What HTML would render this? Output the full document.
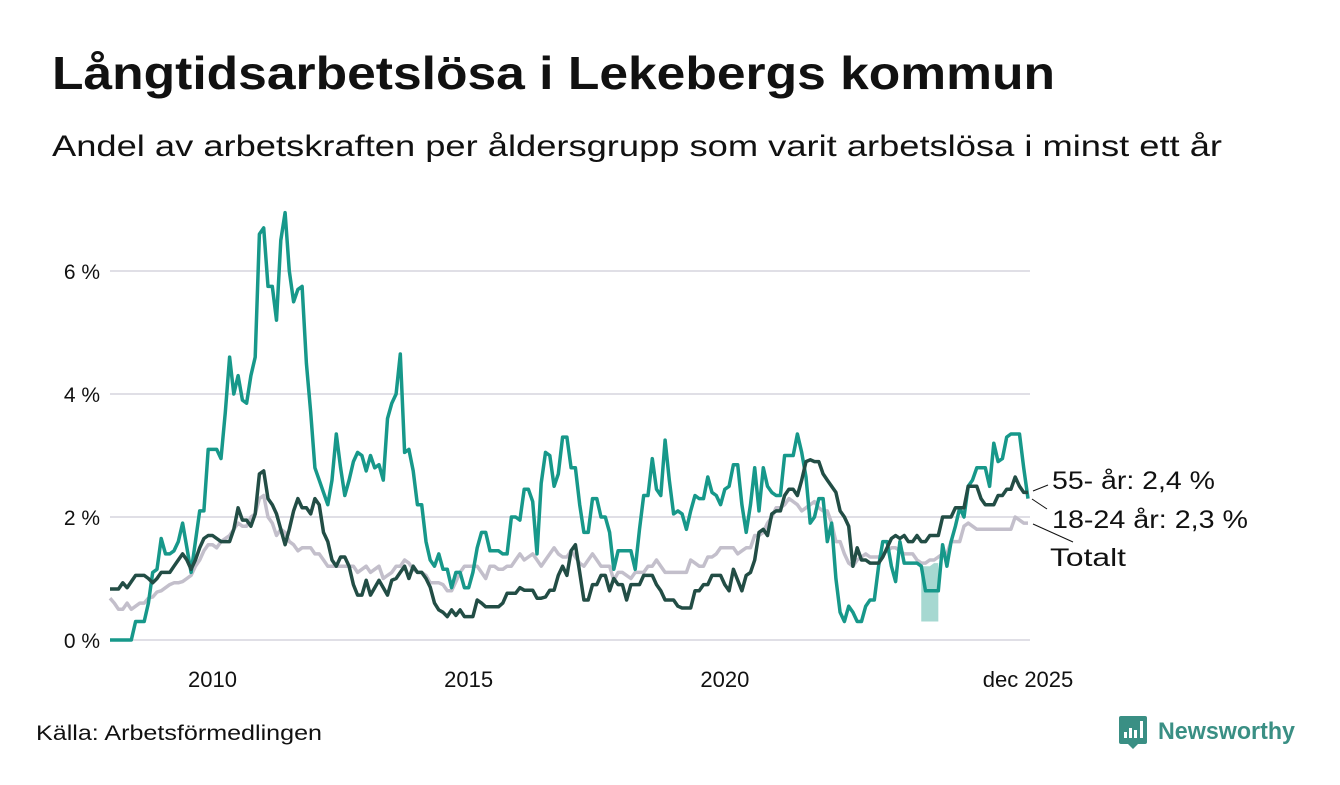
<!DOCTYPE html>
<html><head><meta charset="utf-8"><style>
body{margin:0;background:#fff;width:1340px;height:780px;overflow:hidden;font-family:"Liberation Sans",sans-serif}
</style></head><body>
<svg id="chart" width="1340" height="780" xmlns="http://www.w3.org/2000/svg">
<text x="52" y="89" font-size="46" font-weight="bold" fill="#111" textLength="1003" lengthAdjust="spacingAndGlyphs">Långtidsarbetslösa i Lekebergs kommun</text>
<text x="52" y="156" font-size="30" fill="#111" textLength="1170" lengthAdjust="spacingAndGlyphs">Andel av arbetskraften per åldersgrupp som varit arbetslösa i minst ett år</text>
<g id="grid"></g>
<g id="yticks"></g>
<g id="xticks"></g>
<g id="series"></g>
<g>
<line x1="1033" y1="491" x2="1048" y2="485" stroke="#111" stroke-width="1"/>
<line x1="1032" y1="499" x2="1047" y2="509" stroke="#111" stroke-width="1"/>
<line x1="1033" y1="524" x2="1073" y2="542" stroke="#111" stroke-width="1"/>
<text x="1052" y="489" font-size="25" fill="#111" textLength="163" lengthAdjust="spacingAndGlyphs">55- år: 2,4 %</text>
<text x="1052" y="528" font-size="25" fill="#111" textLength="196" lengthAdjust="spacingAndGlyphs">18-24 år: 2,3 %</text>
<text x="1050" y="566" font-size="25" fill="#111" textLength="76" lengthAdjust="spacingAndGlyphs">Totalt</text>
</g>
<text x="36" y="740" font-size="21" fill="#111" textLength="286" lengthAdjust="spacingAndGlyphs">Källa: Arbetsförmedlingen</text>
<g>
<path d="M1121 716 H1145 Q1147 716 1147 718 V742 Q1147 744 1145 744 H1138 L1133 749 L1128 744 H1121 Q1119 744 1119 742 V718 Q1119 716 1121 716 Z" fill="#3a8f84"/>
<rect x="1124" y="732" width="3" height="6" fill="#fff"/><rect x="1129" y="728" width="3" height="10" fill="#fff"/><rect x="1134" y="730" width="3" height="8" fill="#fff"/><rect x="1140" y="721" width="3" height="17" fill="#fff"/>
<text x="1158" y="739" font-size="24" font-weight="bold" fill="#3a8f84" textLength="137" lengthAdjust="spacingAndGlyphs">Newsworthy</text>
</g>
</svg>
<script>
const yTicks=[0,2,4,6];
const yTickLabels=["0 %","2 %","4 %","6 %"];
const xTickMonths=[24,84,144,215];
const xTickLabels=["2010","2015","2020","dec 2025"];
const startYear=2008;
const youth=[0,0,0,0,0,0,0.3,0.3,0.3,0.6,1.1,1.15,
1.65,1.4,1.4,1.45,1.6,1.9,1.5,1.1,1.6,2.1,2.1,3.1,
3.1,3.1,2.95,3.7,4.6,4.0,4.3,3.9,3.85,4.3,4.6,6.6,
6.7,5.75,5.75,5.2,6.5,6.95,6.0,5.5,5.7,5.75,4.5,3.7,
2.8,2.6,2.4,2.2,2.6,3.35,2.8,2.35,2.6,2.9,3.05,3.0,
2.75,3.0,2.8,2.85,2.6,3.6,3.85,4.0,4.65,3.05,3.1,2.75,
2.2,2.2,1.6,1.3,1.2,1.4,1.15,1.15,0.85,1.1,1.1,0.85,
0.85,1.1,1.5,1.75,1.75,1.45,1.45,1.45,1.4,1.4,2.0,2.0,
1.95,2.45,2.45,2.25,1.4,2.55,3.05,3.0,2.5,2.7,3.3,3.3,
2.8,2.8,2.2,1.75,1.75,2.3,2.3,2.0,2.0,1.75,1.15,1.45,
1.45,1.45,1.45,1.15,1.8,2.35,2.35,2.95,2.45,2.35,3.25,2.6,
2.05,2.1,2.05,1.8,2.1,2.35,2.3,2.3,2.65,2.4,2.35,2.2,
2.45,2.5,2.85,2.85,2.2,1.75,2.2,2.8,2.1,2.8,2.5,2.4,
2.35,2.35,3.0,3.0,3.0,3.35,3.05,2.65,1.9,2.0,2.3,2.3,
1.6,1.9,1.0,0.45,0.3,0.55,0.45,0.3,0.3,0.55,0.65,0.65,
1.2,1.6,1.6,1.2,0.95,1.6,1.25,1.25,1.25,1.25,1.2,0.8,
0.8,0.8,0.8,1.55,1.2,1.6,1.85,2.15,2.0,2.5,2.6,2.8,
2.8,2.8,2.5,3.2,2.9,2.95,3.3,3.35,3.35,3.35,2.8,2.3];
const senior=[0.83,0.83,0.83,0.93,0.85,0.95,1.05,1.05,1.05,1.0,0.93,1.0,
1.1,1.1,1.1,1.2,1.3,1.4,1.3,1.15,1.3,1.5,1.65,1.7,
1.7,1.65,1.6,1.6,1.6,1.8,2.15,1.95,1.95,1.85,2.05,2.7,
2.75,2.3,2.2,2.05,1.8,1.55,1.8,2.1,2.3,2.15,2.15,2.05,
2.3,2.2,1.75,1.6,1.3,1.2,1.35,1.35,1.2,0.9,0.73,0.73,
0.97,0.73,0.85,0.97,0.85,0.73,0.97,1.0,1.1,1.2,1.0,1.2,
1.1,1.1,1.0,0.86,0.6,0.49,0.45,0.38,0.49,0.4,0.49,0.38,
0.38,0.38,0.65,0.6,0.54,0.54,0.54,0.54,0.6,0.76,0.76,0.76,
0.85,0.81,0.81,0.81,0.68,0.68,0.7,0.81,0.81,1.05,1.2,1.05,
1.45,1.55,1.1,0.65,0.65,0.9,0.9,1.05,1.05,0.8,1.0,0.9,
0.9,0.65,0.9,0.9,0.9,1.05,1.05,1.05,0.9,0.8,0.65,0.65,
0.65,0.55,0.52,0.52,0.52,0.8,0.8,0.9,0.9,1.05,1.05,1.05,
0.9,0.8,1.15,0.97,0.8,1.05,1.1,1.3,1.75,1.8,1.7,2.05,
2.1,2.1,2.35,2.45,2.45,2.35,2.6,2.9,2.93,2.9,2.9,2.7,
2.6,2.5,2.4,2.1,2.0,1.85,1.2,1.5,1.3,1.3,1.25,1.25,
1.25,1.35,1.5,1.65,1.7,1.65,1.7,1.6,1.6,1.7,1.6,1.6,
1.7,1.7,1.7,2.0,2.0,2.0,2.15,2.15,2.15,2.5,2.5,2.5,
2.3,2.2,2.2,2.2,2.35,2.35,2.45,2.45,2.65,2.5,2.4,2.4];
const total=[0.68,0.6,0.5,0.5,0.6,0.5,0.55,0.6,0.6,0.68,0.7,0.78,
0.8,0.85,0.9,0.93,0.93,0.95,1.0,1.05,1.2,1.3,1.45,1.55,
1.55,1.5,1.6,1.65,1.7,1.8,1.9,1.85,1.85,2.0,2.05,2.3,
2.35,2.0,1.9,1.7,1.8,1.75,1.6,1.55,1.45,1.5,1.5,1.5,
1.4,1.4,1.3,1.2,1.2,1.2,1.2,1.2,1.2,1.2,1.1,1.15,
1.2,1.1,1.15,1.2,1.0,1.05,1.1,1.2,1.2,1.3,1.25,1.15,
1.1,1.1,1.05,0.93,0.93,0.93,0.9,0.8,0.8,0.95,1.1,1.2,
1.2,1.2,1.2,1.1,1.0,1.2,1.2,1.15,1.15,1.2,1.2,1.3,
1.4,1.3,1.35,1.4,1.3,1.2,1.3,1.4,1.5,1.4,1.35,1.35,
1.45,1.35,1.25,1.2,1.3,1.4,1.3,1.2,1.2,1.2,0.97,1.1,
1.1,1.05,1.0,1.1,1.1,1.1,1.2,1.2,1.3,1.2,1.1,1.1,
1.1,1.1,1.1,1.1,1.3,1.25,1.2,1.2,1.35,1.35,1.4,1.5,
1.5,1.5,1.5,1.4,1.45,1.5,1.5,1.7,1.7,1.75,1.9,2.0,
2.15,2.15,2.2,2.3,2.25,2.2,2.1,2.15,2.2,2.25,2.15,2.1,
2.1,1.9,1.6,1.6,1.4,1.25,1.2,1.3,1.35,1.4,1.35,1.35,
1.35,1.4,1.45,1.5,1.5,1.45,1.4,1.4,1.4,1.3,1.25,1.25,
1.3,1.3,1.35,1.4,1.4,1.6,1.6,1.6,1.85,1.9,1.85,1.8,
1.8,1.8,1.8,1.8,1.8,1.8,1.8,1.8,2.0,1.95,1.9,1.9];
const bandMonths=[190,191,192,193,194];
const bandLow=[0.3,0.3,0.3,0.3,0.3];
const bandHigh=[1.2,1.2,1.2,1.25,1.25];

const NS="http://www.w3.org/2000/svg";
const X0=110,X1=1028,Y0=640,PXPER=61.5;
const nMonths=youth.length;
function xs(i){return X0+i*(X1-X0)/(nMonths-1);}
function ys(v){return Y0-v*PXPER;}
function mk(tag,attrs,parent){const e=document.createElementNS(NS,tag);for(const k in attrs)e.setAttribute(k,attrs[k]);parent.appendChild(e);return e;}
const grid=document.getElementById('grid'),yt=document.getElementById('yticks'),xt=document.getElementById('xticks'),ser=document.getElementById('series');
yTicks.forEach((v,k)=>{
  const l=mk('line',{x1:X0,x2:1030,y1:ys(v),y2:ys(v),stroke:'#e0dfe6','stroke-width':2},grid);
  
  
  const t=mk('text',{x:100,y:ys(v)+8,'text-anchor':'end','font-size':21,fill:'#111'},yt);
  t.textContent=yTickLabels[k];
  
  
});
xTickMonths.forEach((m,k)=>{
  const t=mk('text',{x:xs(m),y:687,'text-anchor':'middle','font-size':22,fill:'#111'},xt);
  t.textContent=xTickLabels[k];
  
  
});
let bp='';
bandMonths.forEach((m,k)=>{bp+=(k?'L':'M')+xs(m)+' '+ys(bandHigh[k])+' ';});
for(let k=bandMonths.length-1;k>=0;k--)bp+='L'+xs(bandMonths[k])+' '+ys(bandLow[k])+' ';
const band=mk('path',{d:bp+'Z',fill:'#a6d8d1'},ser);


function line(arr,color,name){
  let d='';arr.forEach((v,i)=>{d+=(i?'L':'M')+xs(i).toFixed(1)+' '+ys(v).toFixed(1)+' ';});
  const p=mk('path',{d:d,fill:'none',stroke:color,'stroke-width':3.5,'stroke-linejoin':'round'},ser);
  
  
}
line(total,'#c3bfcb','line-totalt');
line(youth,'#17988a','line-18-24');
line(senior,'#224d45','line-55');
</script>
</body></html>
